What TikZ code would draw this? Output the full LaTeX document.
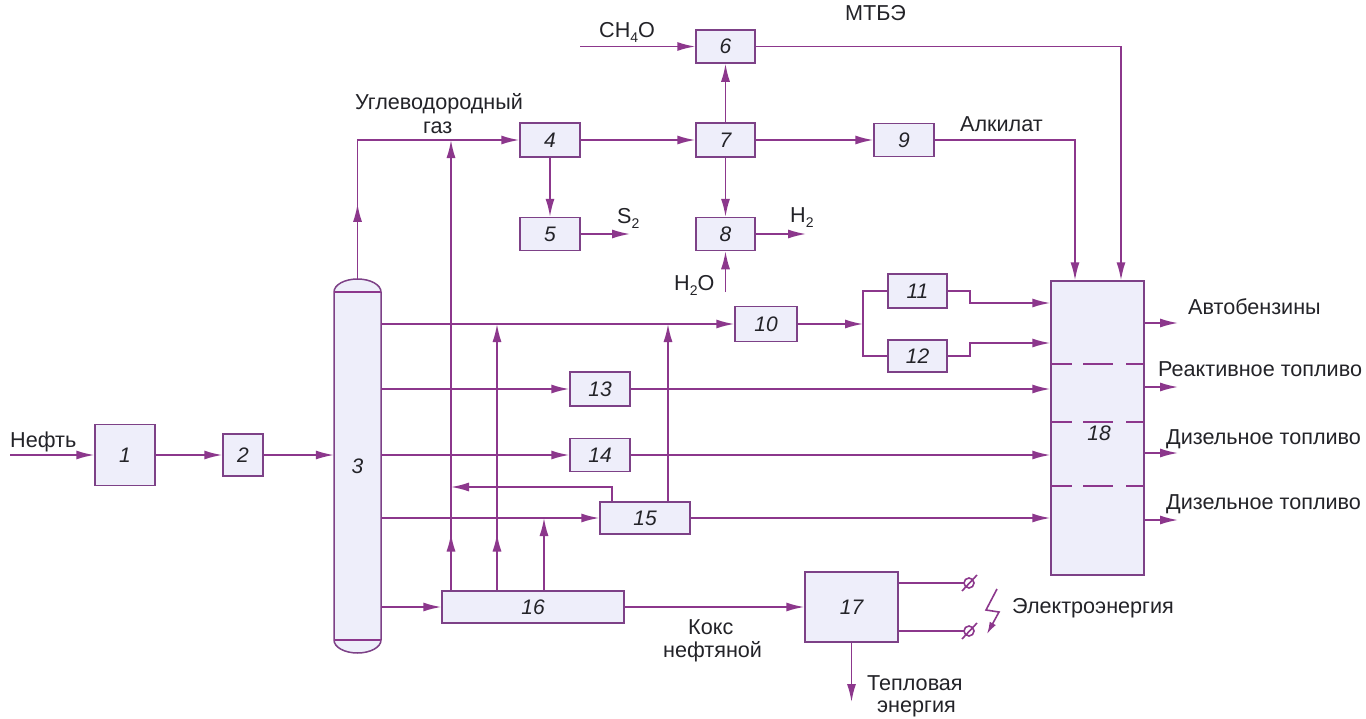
\documentclass[tikz,border=0pt]{standalone}
\usepackage{fontspec}
\setmainfont{Liberation Sans}
\usetikzlibrary{arrows.meta,decorations.markings}
\definecolor{ln}{RGB}{140,55,140}
\definecolor{bd}{RGB}{125,65,135}
\definecolor{bf}{RGB}{238,238,250}
\definecolor{tx}{RGB}{35,35,40}
\newcommand\lowsub[1]{\raisebox{-0.45ex}{\fontsize{14}{14}\selectfont #1}}
\begin{document}
\begin{tikzpicture}[x=1pt,y=-1pt,
  box/.style={draw=bd, line width=1.5pt, fill=bf, inner sep=0pt, font=\fontsize{21}{24}\selectfont\itshape, text=tx},
  flow/.style={draw=ln, line width=1.6pt},
  arr/.style={flow, -{Latex[length=18pt,width=9pt]}},
  midarr/.style={flow, postaction={decorate}, decoration={markings, mark=at position #1 with {\arrow{Latex[length=18pt,width=9pt]}}}},
  lbl/.style={anchor=base west, inner sep=0pt, text=tx, font=\fontsize{21.6}{24}\selectfont}
]
\useasboundingbox (0,0) rectangle (1366,718);
\fill[white] (0,0) rectangle (1366,718);

% column 3
\path[draw=bd, line width=1.5pt, fill=bf] (334,292) arc[start angle=180,end angle=360,x radius=23.5,y radius=13] -- (381,640) arc[start angle=0,end angle=180,x radius=23.5,y radius=13] -- cycle;
\draw[ln, line width=1.5pt] (334,292) -- (381,292) (334,640) -- (381,640);
\node[inner sep=0pt, minimum width=47, minimum height=348, font=\fontsize{21}{24}\selectfont\itshape, text=tx] (c3) at (357.5,466) {3};
\coordinate (dome) at (357.5,279);

% boxes
\node[box, minimum width=60, minimum height=61] (b1) at (125,455) {1};
\node[box, minimum width=40, minimum height=42] (b2) at (243,455) {2};
\node[box, minimum width=60, minimum height=34] (b4) at (550,140) {4};
\node[box, minimum width=60, minimum height=33] (b5) at (550,234) {5};
\node[box, minimum width=59, minimum height=33] (b6) at (725.5,46.5) {6};
\node[box, minimum width=59, minimum height=34] (b7) at (725.5,140) {7};
\node[box, minimum width=59, minimum height=33] (b8) at (725.5,234) {8};
\node[box, minimum width=60, minimum height=33] (b9) at (904,140) {9};
\node[box, minimum width=62, minimum height=35] (b10) at (766,324) {10};
\node[box, minimum width=59, minimum height=34] (b11) at (917.5,291) {11};
\node[box, minimum width=59, minimum height=32] (b12) at (917.5,356) {12};
\node[box, minimum width=60, minimum height=34] (b13) at (600,389) {13};
\node[box, minimum width=60, minimum height=33] (b14) at (600,455) {14};
\node[box, minimum width=90, minimum height=32] (b15) at (645,518) {15};
\node[box, minimum width=182, minimum height=32] (b16) at (533,607) {16};
\node[box, minimum width=93, minimum height=70] (b17) at (851.5,607) {17};
\node[box, minimum width=93, minimum height=294] (b18) at (1097.5,428) {};
\node[inner sep=0pt, font=\fontsize{21}{24}\selectfont\itshape, text=tx] (l18) at (1099,433) {18};
\foreach \yy in {364,422,486}
  \draw[ln, line width=1.5pt] (1051,\yy) -- (1072,\yy) (1083,\yy) -- (1113,\yy) (1126,\yy) -- (1144,\yy);

% free ends
\coordinate (in1) at (10,455);
\coordinate (ch) at (580,46.5);
\coordinate (s2) at (630,234);
\coordinate (h2) at (806,234);
\coordinate (h2o) at (725.5,292);
\coordinate (br) at (863,324);
\coordinate (heat) at (851.5,702);

% connectors
\draw[arr] (in1) -- (b1);
\draw[arr] (b1) -- (b2);
\draw[arr] (b2) -- (b2 -| c3.west);
\draw[arr, midarr=0.25] (dome) |- (b4);
\draw[arr] (b4) -- (b5);
\draw[arr] (b5) -- (s2);
\draw[arr] (b4) -- (b7);
\draw[arr] (ch) -- (b6);
\draw[arr] (b7) -- (b6);
\draw[arr] (b7) -- (b8);
\draw[arr] (b8) -- (h2);
\draw[arr] (h2o) -- (b8);
\draw[arr] (b7) -- (b9);
\draw[arr] (b9) -| (1075,0 |- b18.north);
\draw[arr] (b6) -| (1121,0 |- b18.north);

\draw[arr] (c3.east |- b10) -- (b10);
\draw[arr] (c3.east |- b13) -- (b13);
\draw[arr] (c3.east |- b14) -- (b14);
\draw[arr] (c3.east |- b15) -- (b15);
\draw[arr] (c3.east |- b16) -- (b16);

\draw[arr, midarr=0.126] (451,0 |- b16.north) -- (451,0 |- b4);
\draw[arr, midarr=0.213] (497,0 |- b16.north) -- (497,0 |- b10);
\draw[arr] (544,0 |- b16.north) -- (544,0 |- b15);
\draw[arr] (612,0 |- b15.north) |- (451,487);
\draw[arr] (668,0 |- b15.north) -- (668,0 |- b10);

\draw[arr] (b10) -- (br);
\draw[flow] (b11) -| (br) |- (b12);
\draw[arr] (b11) -- (970,0 |- b11) |- (b18.west |- 0,303);
\draw[arr] (b12) -- (970,0 |- b12) |- (b18.west |- 0,343);
\draw[arr] (b13) -- (b13 -| b18.west);
\draw[arr] (b14) -- (b14 -| b18.west);
\draw[arr] (b15) -- (b15 -| b18.west);

\draw[arr] (b18.east |- 0,323) -- (1178,323);
\draw[arr] (b18.east |- 0,387) -- (1178,387);
\draw[arr] (b18.east |- 0,453) -- (1178,453);
\draw[arr] (b18.east |- 0,520) -- (1178,520);

\draw[arr] (b16) -- (b17);
\draw[arr] (b17) -- (heat);
\draw[flow] (b17.east |- 0,583) -- (964,583);
\draw[flow] (b17.east |- 0,631) -- (964,631);
\draw[flow] (969,583) circle[radius=5] (962,591) -- (977,575);
\draw[flow] (969,631) circle[radius=5] (962,639) -- (977,623);
\draw[flow, -{Latex[length=12pt,width=7pt]}] (997,589) -- (986,610) -- (999,612) -- (987,634);

% labels
\node[lbl] at (10,447) {Нефть};
\node[lbl] at (599,37) {CH\lowsub{4}O};
\node[lbl] at (845,20) {МТБЭ};
\node[lbl] at (355,109) {Углеводородный};
\node[lbl] at (423,133) {газ};
\node[lbl] at (617,223) {S\lowsub{2}};
\node[lbl] at (790,222) {H\lowsub{2}};
\node[lbl] at (674,290) {H\lowsub{2}O};
\node[lbl] at (960,131) {Алкилат};
\node[lbl] at (1188,314) {Автобензины};
\node[lbl] at (1158,376) {Реактивное топливо};
\node[lbl] at (1166,444) {Дизельное топливо};
\node[lbl] at (1166,509) {Дизельное топливо};
\node[lbl] at (688,634) {Кокс};
\node[lbl] at (663,657) {нефтяной};
\node[lbl] at (867,690) {Тепловая};
\node[lbl] at (877,712) {энергия};
\node[lbl] at (1012,613) {Электроэнергия};
\end{tikzpicture}
\end{document}
